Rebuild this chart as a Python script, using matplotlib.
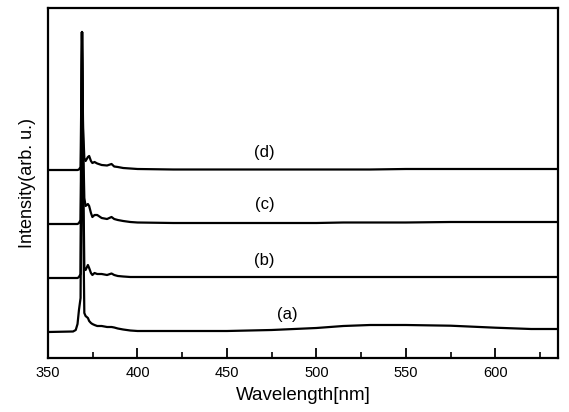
import matplotlib
matplotlib.use("Agg")
import matplotlib.pyplot as plt
from matplotlib.ticker import MultipleLocator

plt.rcParams['font.family'] = ['Liberation Sans', 'DejaVu Sans']

wavelength = [350, 364, 365.5, 366.5, 367.3, 368.2, 369, 369.6, 370.3, 371, 372.3, 373,
              374, 374.8, 376, 377.5, 380, 383, 385.5, 387, 389, 392, 396, 400, 420, 450,
              475, 500, 515, 530, 550, 575, 600, 620, 635]

spec_a = [26, 26.5, 28, 34, 48, 60, 326, 150, 45, 42, 40, 37, 35, 34, 33, 32, 32, 31, 31,
          30.5, 29.5, 28.5, 27.5, 27, 27, 27, 28, 30, 32, 33, 33, 32.3, 30.3, 29, 29]
spec_b = [80, 80, 80, 80, 81, 84, 326, 200, 90, 88, 93, 90, 85, 83, 85, 84, 84, 83, 84.5,
          83, 82, 81.5, 81, 81, 81, 81, 81, 81, 81, 81, 81, 81, 81, 81, 81]
spec_c = [134, 134, 134, 134, 135, 138, 326, 220, 160, 152, 154, 152, 145, 141, 143, 143,
          140, 139, 141, 139, 138, 137, 136, 135.5, 135, 135, 135, 135, 135.5, 135.5, 135.5,
          136, 136, 136, 136]
spec_d = [188, 188, 188, 188, 188.5, 191, 326, 230, 200, 197, 201, 202, 197, 195, 196,
          194.5, 193, 192.5, 194, 191.5, 191, 190, 189.5, 189, 188.5, 188.5, 188.5, 188.5,
          188.5, 188.5, 189, 189, 189, 189, 189]

labels = ["(a)", "(b)", "(c)", "(d)"]
label_x = [484, 471, 471, 471]
label_y = [43, 98, 153, 206]

fig = plt.figure(figsize=(5.69, 4.12), dpi=100)
ax = fig.add_axes([48/569, (412-358)/412, (558-48)/569, (358-8)/412])

for s in (spec_a, spec_b, spec_c, spec_d):
    ax.plot(wavelength, s, color='black', lw=1.6)

for t, x, y in zip(labels, label_x, label_y):
    ax.text(x, y, t, ha='center', va='center', fontsize=12)

ax.set_xlim(350, 635)
ax.set_ylim(0, 350)
ax.xaxis.set_major_locator(MultipleLocator(50))
ax.xaxis.set_minor_locator(MultipleLocator(25))
ax.tick_params(axis='x', which='major', direction='in', length=7, width=1.3, labelsize=10.5, pad=6)
ax.tick_params(axis='x', which='minor', direction='in', length=4, width=1.2)
ax.set_yticks([])
for sp in ax.spines.values():
    sp.set_linewidth(1.6)

ax.set_xlabel("Wavelength[nm]", fontsize=13.5, labelpad=5)
ax.set_ylabel("Intensity(arb. u.)", fontsize=13, labelpad=9)

fig.savefig("out.png", dpi=100)
